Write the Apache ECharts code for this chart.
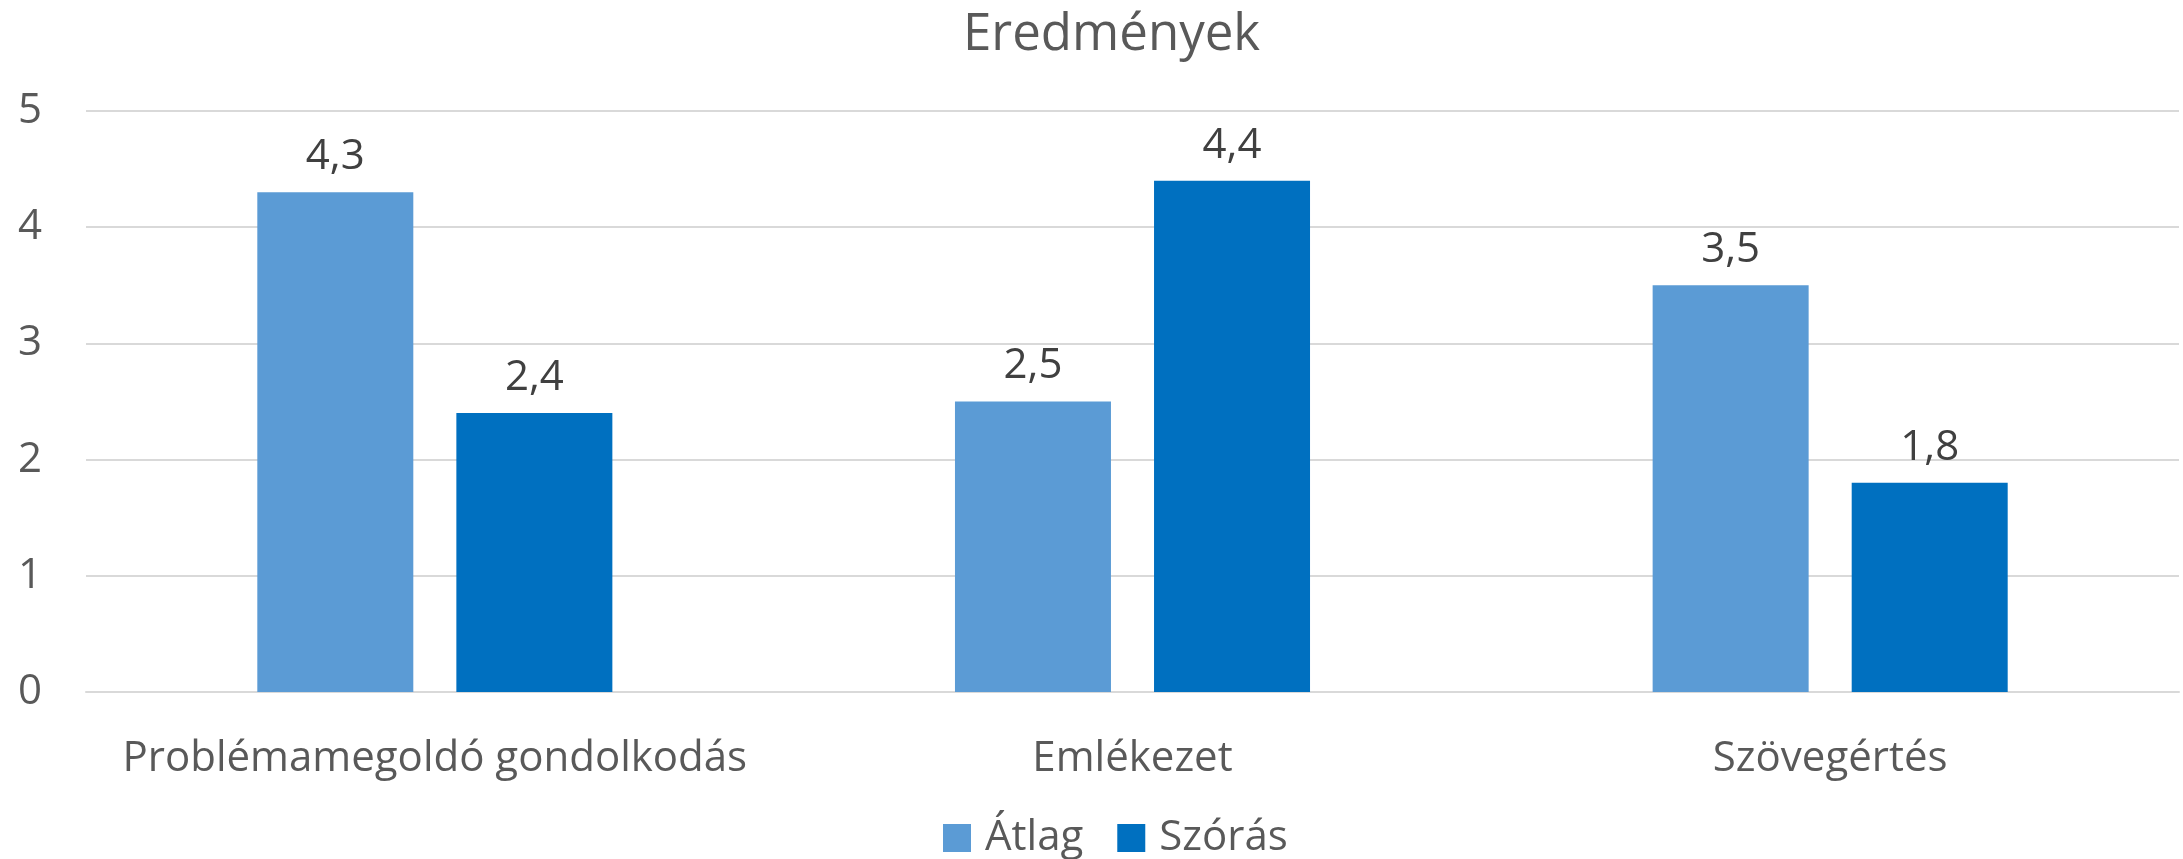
<!DOCTYPE html>
<html>
<head>
<meta charset="utf-8">
<script src="https://cdn.jsdelivr.net/npm/echarts@6/dist/echarts.min.js"></script>
<style>
  html, body { margin: 0; padding: 0; background: #fff; }
  #chart { width: 2183px; height: 859px; }
</style>
</head>
<body>
<div id="chart"></div>
<script>
var categories = ['Problémamegoldó gondolkodás', 'Emlékezet', 'Szövegértés'];
var atlag = [4.3, 2.5, 3.5];
var szoras = [2.4, 4.4, 1.8];
var yTicks = [0, 1, 2, 3, 4, 5];

var font = '"Open Sans", "Liberation Sans", sans-serif';
var chart = echarts.init(document.getElementById('chart'));

function label() {
    return {
        show: true,
        position: 'top',
        distance: 14,
        color: '#404040',
        fontFamily: font,
        fontSize: 42,
        formatter: function (p) { return String(p.value).replace('.', ','); }
    };
}

chart.setOption({
    animation: false,
    title: {
        text: 'Eredmények',
        left: 958,
        top: 5,
        textStyle: { color: '#595959', fontFamily: font, fontSize: 51, fontWeight: 'normal' }
    },
    legend: {
        bottom: -5,
        left: 938,
        itemWidth: 28,
        itemHeight: 28,
        itemGap: 34,
        icon: 'rect',
        textStyle: { color: '#595959', fontFamily: font, fontSize: 42, padding: [0, 0, 0, 9] },
        data: ['Átlag', 'Szórás']
    },
    grid: { left: 86, right: 4, top: 111, bottom: 167 },
    xAxis: {
        type: 'category',
        data: categories,
        axisTick: { show: false },
        axisLine: { lineStyle: { color: '#D9D9D9', width: 2 } },
        axisLabel: { color: '#595959', fontFamily: font, fontSize: 42, margin: 46, interval: 0 }
    },
    yAxis: {
        type: 'value',
        min: yTicks[0],
        max: yTicks[yTicks.length - 1],
        interval: 1,
        axisLine: { show: false },
        axisTick: { show: false },
        splitLine: { lineStyle: { color: '#D9D9D9', width: 2 } },
        axisLabel: { color: '#595959', fontFamily: font, fontSize: 42, margin: 44 }
    },
    series: [
        {
            name: 'Átlag',
            type: 'bar',
            data: atlag,
            barWidth: 156,
            barGap: '27.6%',
            itemStyle: { color: '#5B9BD5' },
            label: label()
        },
        {
            name: 'Szórás',
            type: 'bar',
            data: szoras,
            barWidth: 156,
            itemStyle: { color: '#0070C0' },
            label: label()
        }
    ]
});
</script>
</body>
</html>
